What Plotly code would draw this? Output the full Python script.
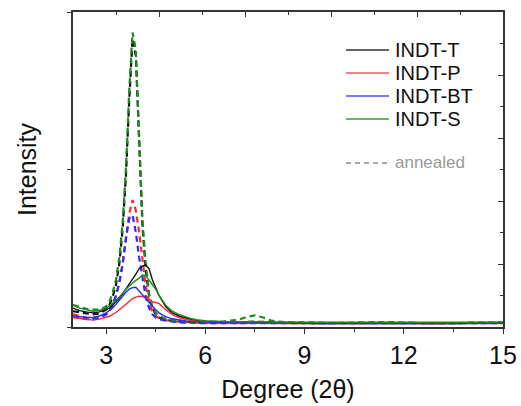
import plotly.graph_objects as go

# shared 2-theta grid (degrees)
deg = [2.0, 2.2, 2.4, 2.6, 2.8, 3.0, 3.1, 3.2, 3.3, 3.4, 3.5, 3.6, 3.7, 3.8, 3.9,
       4.0, 4.1, 4.2, 4.3, 4.4, 4.5, 4.6, 4.8, 5.0, 5.2, 5.4, 5.6, 5.8, 6.0, 6.5,
       7.0, 7.25, 7.5, 7.75, 8.0, 8.5, 9.0, 9.5, 10.0, 10.5, 11.0, 11.5, 12.0,
       12.5, 13.0, 13.5, 14.0, 14.5, 15.0]

# as-cast films (solid)
t_solid = [6.0, 5.2, 4.8, 4.5, 4.8, 5.5, 6.0, 7.0, 8.0, 9.2, 10.5, 12.0, 13.5, 15.0, 16.8,
           18.5, 19.3, 19.7, 18.5, 15.0, 12.5, 10.0, 6.5, 4.5, 3.5, 2.8, 2.3, 2.0, 1.8, 1.6,
           1.5, 1.5, 1.6, 1.5, 1.4, 1.4, 1.3, 1.3, 1.4, 1.2, 1.3, 1.3, 1.2, 1.3, 1.2, 1.3, 1.2, 1.3, 1.3]
p_solid = [3.0, 2.7, 2.5, 2.2, 2.5, 3.0, 3.4, 4.0, 4.6, 5.5, 6.4, 7.5, 8.3, 9.0, 9.5,
           9.8, 9.7, 9.2, 8.8, 8.0, 7.8, 7.5, 5.5, 4.0, 3.0, 2.4, 2.0, 1.8, 1.6, 1.4,
           1.3, 1.3, 1.4, 1.3, 1.2, 1.2, 1.1, 1.2, 1.1, 1.1, 1.2, 1.1, 1.1, 1.2, 1.1, 1.1, 1.2, 1.1, 1.2]
bt_solid = [3.5, 3.2, 3.0, 3.0, 3.5, 4.5, 5.2, 6.0, 7.2, 8.5, 9.8, 11.0, 12.0, 12.5, 12.6,
            11.5, 10.3, 9.0, 7.8, 6.5, 5.5, 4.5, 3.3, 2.6, 2.2, 1.9, 1.7, 1.6, 1.5, 1.4,
            1.3, 1.3, 1.4, 1.3, 1.2, 1.2, 1.2, 1.1, 1.2, 1.1, 1.2, 1.1, 1.2, 1.1, 1.2, 1.1, 1.2, 1.1, 1.2]
s_solid = [7.0, 6.0, 5.5, 5.0, 5.3, 6.0, 6.7, 7.5, 8.5, 9.5, 10.8, 12.0, 13.0, 14.0, 14.8,
           15.5, 16.5, 16.3, 15.0, 13.5, 12.0, 10.0, 7.0, 5.0, 4.0, 3.2, 2.6, 2.2, 2.0, 1.8,
           1.7, 1.7, 1.8, 1.7, 1.6, 1.6, 1.5, 1.5, 1.6, 1.5, 1.5, 1.6, 1.5, 1.5, 1.6, 1.5, 1.5, 1.6, 1.6]

# annealed films (dashed)
t_ann = [5.0, 4.6, 4.2, 4.0, 4.3, 5.5, 7.0, 9.5, 13.5, 20.0, 31.0, 48.0, 72.0, 91.5, 86.0,
         58.0, 32.0, 18.0, 10.0, 6.0, 4.0, 3.0, 2.3, 1.9, 1.7, 1.6, 1.5, 1.4, 1.4, 1.4,
         1.5, 1.6, 1.7, 1.6, 1.5, 1.3, 1.3, 1.2, 1.3, 1.2, 1.3, 1.5, 1.3, 1.2, 1.3, 1.2, 1.3, 1.2, 1.3]
p_ann = [4.0, 3.5, 3.0, 2.8, 3.0, 4.0, 5.0, 7.0, 10.0, 14.0, 20.0, 28.0, 36.0, 40.3, 37.0,
         30.0, 21.0, 13.0, 8.0, 5.0, 3.5, 2.8, 2.2, 1.8, 1.6, 1.5, 1.4, 1.3, 1.3, 1.2,
         1.3, 1.3, 1.4, 1.3, 1.2, 1.2, 1.1, 1.2, 1.1, 1.2, 1.1, 1.2, 1.1, 1.2, 1.1, 1.2, 1.1, 1.2, 1.2]
bt_ann = [3.2, 2.8, 2.5, 2.4, 2.8, 4.0, 5.0, 7.0, 10.0, 14.0, 20.0, 28.0, 34.5, 35.5, 30.0,
          22.0, 15.0, 9.5, 6.0, 4.0, 3.0, 2.5, 2.0, 1.7, 1.5, 1.4, 1.3, 1.3, 1.2, 1.2,
          1.2, 1.3, 1.3, 1.2, 1.2, 1.1, 1.1, 1.1, 1.2, 1.1, 1.1, 1.2, 1.1, 1.1, 1.2, 1.1, 1.1, 1.2, 1.2]
s_ann = [7.0, 6.3, 5.8, 5.5, 5.5, 6.5, 8.0, 11.0, 15.0, 22.0, 33.0, 50.0, 75.0, 93.5, 88.0,
         60.0, 34.0, 20.0, 10.5, 6.5, 4.5, 3.5, 2.6, 2.2, 2.0, 1.8, 1.7, 1.6, 1.6, 1.7,
         2.3, 3.2, 3.7, 3.0, 2.0, 1.4, 1.5, 1.3, 1.3, 1.2, 1.4, 1.6, 1.3, 1.2, 1.3, 1.2, 1.4, 1.3, 1.4]

names = ["INDT-T", "INDT-P", "INDT-BT", "INDT-S"]
colors = ["#111111", "#ff2a2a", "#2a2aff", "#1a8c1a"]
legend_colors = ["#333333", "#ff5555", "#4a4aff", "#3a9a3a"]
solid = [t_solid, p_solid, bt_solid, s_solid]
annealed = [t_ann, p_ann, bt_ann, s_ann]

x_ticks = [3, 6, 9, 12, 15]

fig = go.Figure()

# dashed (annealed) traces
for n, c, ys in zip(names, colors, annealed):
    fig.add_trace(go.Scatter(x=deg, y=ys, mode="lines", showlegend=False,
                             line=dict(color=c, width=2.2, dash="6px,4px"),
                             name=n + " annealed"))
# solid traces
for n, c, ys in zip(names, colors, solid):
    fig.add_trace(go.Scatter(x=deg, y=ys, mode="lines", name=n, showlegend=False,
                             line=dict(color=c, width=1.4)))

# invisible trace to activate top/right frame axes
fig.add_trace(go.Scatter(x=[None], y=[None], xaxis="x2", yaxis="y2", showlegend=False))

# hand-drawn legend (paper pixel positions converted to paper fractions)
W, H = 521, 406
L, R, T, B = 73, 18, 12, 79
pw, ph = W - L - R, H - T - B


def px(xp):
    return (xp - L) / pw


def py(yp):
    return (H - B - yp) / ph


shapes = []
annotations = []
row_y = [50, 73, 96, 119]
for n, c, yy in zip(names, legend_colors, row_y):
    shapes.append(dict(type="line", xref="paper", yref="paper",
                       x0=px(346), x1=px(389), y0=py(yy), y1=py(yy),
                       line=dict(color=c, width=1.6)))
    annotations.append(dict(xref="paper", yref="paper", x=px(393), y=py(yy),
                            xanchor="left", yanchor="middle", text=n, showarrow=False,
                            font=dict(size=20, color="#111111")))
shapes.append(dict(type="line", xref="paper", yref="paper",
                   x0=px(346), x1=px(387), y0=py(163), y1=py(163),
                   line=dict(color="#8a8a8a", width=1.5, dash="5px,4px")))
annotations.append(dict(xref="paper", yref="paper", x=px(393), y=py(162),
                        xanchor="left", yanchor="middle", text="annealed", showarrow=False,
                        font=dict(size=17, color="#999999")))

axis_line = "#333333"
fig.update_layout(
    width=W, height=H,
    margin=dict(l=L, r=R, t=T, b=B),
    paper_bgcolor="white", plot_bgcolor="white",
    font=dict(family="Arial, Liberation Sans, sans-serif", color="#111111"),
    showlegend=False,
    shapes=shapes, annotations=annotations,
    xaxis=dict(range=[2, 15], tickvals=x_ticks, ticks="outside", ticklen=5,
               tickwidth=1.3, tickcolor=axis_line, automargin=False,
               minor=dict(tickvals=[4.5, 7.5, 10.5, 13.5], ticks="outside",
                          ticklen=3, tickwidth=1.3, tickcolor=axis_line),
               showline=True, linecolor=axis_line, linewidth=1.5, showgrid=False,
               zeroline=False, tickfont=dict(size=25),
               title=dict(text="Degree (2θ)", font=dict(size=25), standoff=13)),
    yaxis=dict(range=[0, 100], tickvals=[0, 50, 100], ticks="outside", ticklen=4,
               tickwidth=1.3, tickcolor=axis_line, showticklabels=False,
               showline=True, linecolor=axis_line, linewidth=1.5, showgrid=False,
               zeroline=False, automargin=False,
               title=dict(text="Intensity", font=dict(size=25), standoff=24)),
    xaxis2=dict(overlaying="x", side="top", range=[0, 10], dtick=2, tick0=0,
                ticks="inside", ticklen=5, tickwidth=1.3, tickcolor=axis_line,
                minor=dict(dtick=1, ticks="inside", ticklen=3, tickwidth=1.3,
                           tickcolor=axis_line),
                showticklabels=False, showline=True, linecolor=axis_line,
                linewidth=1.5, showgrid=False, zeroline=False, automargin=False),
    yaxis2=dict(overlaying="y", side="right", range=[0, 10], dtick=2, tick0=0,
                ticks="inside", ticklen=5, tickwidth=1.3, tickcolor=axis_line,
                minor=dict(dtick=1, ticks="inside", ticklen=3, tickwidth=1.3,
                           tickcolor=axis_line),
                showticklabels=False, showline=True, linecolor=axis_line,
                linewidth=1.5, showgrid=False, zeroline=False, automargin=False),
)

fig.write_html("out.html")
